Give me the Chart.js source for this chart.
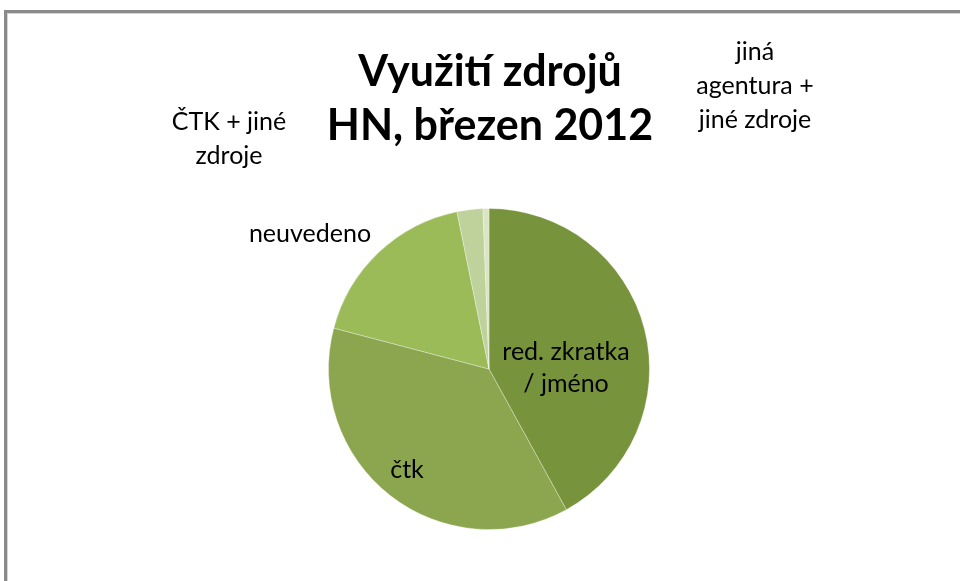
<!DOCTYPE html>
<html>
<head>
<meta charset="utf-8">
<script src="https://cdn.jsdelivr.net/npm/chart.js@4"></script>
<style>
html,body{margin:0;padding:0;background:#fff;}
#wrap{position:relative;width:960px;height:581px;overflow:hidden;}
#frame{position:absolute;left:4px;top:10px;width:1000px;height:700px;border-top:3px solid #8a8a8a;border-left:3px solid #8a8a8a;box-shadow:inset 1px 1px 0 #d4d4d4;}
canvas{position:absolute;left:0;top:0;}
</style>
</head>
<body>
<div id="wrap">
<div id="frame"></div>
<canvas id="c" width="960" height="581"></canvas>
</div>
<script>
const categories = ["red. zkratka / jméno", "čtk", "neuvedeno", "ČTK + jiné zdroje", "jiná agentura + jiné zdroje"];
const values = [42.0, 37.1, 17.7, 2.6, 0.6];
const titleLines = ["Využití zdrojů", "HN, březen 2012"];

const colors = ["#77933c", "#8ba64e", "#9bbb59", "#bfd29c", "#d9e5c3"];
const FONT = "Lato, 'Open Sans', sans-serif";

// label placements (pixel centres) and line breaks
const labelPlacement = [
  {lines:["red. zkratka", "/ jméno"], x:566, y:[352, 384]},
  {lines:["čtk"], x:407, y:[470]},
  {lines:["neuvedeno"], x:310, y:[234]},
  {lines:["ČTK + jiné", "zdroje"], x:229, y:[122, 156]},
  {lines:["jiná", "agentura +", "jiné zdroje"], x:755, y:[52, 86, 120]}
];

const textPlugin = {
  id: 'texts',
  afterDraw(chart) {
    const ctx = chart.ctx;
    ctx.save();
    ctx.fillStyle = '#000';
    ctx.textAlign = 'center';
    ctx.textBaseline = 'middle';
    ctx.font = "bold 43px " + FONT;
    ctx.fillText(titleLines[0], 490, 72);
    ctx.fillText(titleLines[1], 490, 126);
    ctx.font = "25px " + FONT;
    labelPlacement.forEach(p => {
      p.lines.forEach((t, i) => ctx.fillText(t, p.x, p.y[i]));
    });
    ctx.restore();
  }
};

new Chart(document.getElementById('c'), {
  type: 'pie',
  data: {
    labels: categories,
    datasets: [{
      data: values,
      backgroundColor: colors,
      borderColor: 'rgba(255,255,255,0.3)',
      borderWidth: 1
    }]
  },
  options: {
    responsive: false,
    animation: false,
    layout: {padding: {left: 328, right: 310, top: 208, bottom: 51}},
    plugins: {legend: {display: false}, tooltip: {enabled: false}, title: {display: false}}
  },
  plugins: [textPlugin]
});
</script>
</body>
</html>
